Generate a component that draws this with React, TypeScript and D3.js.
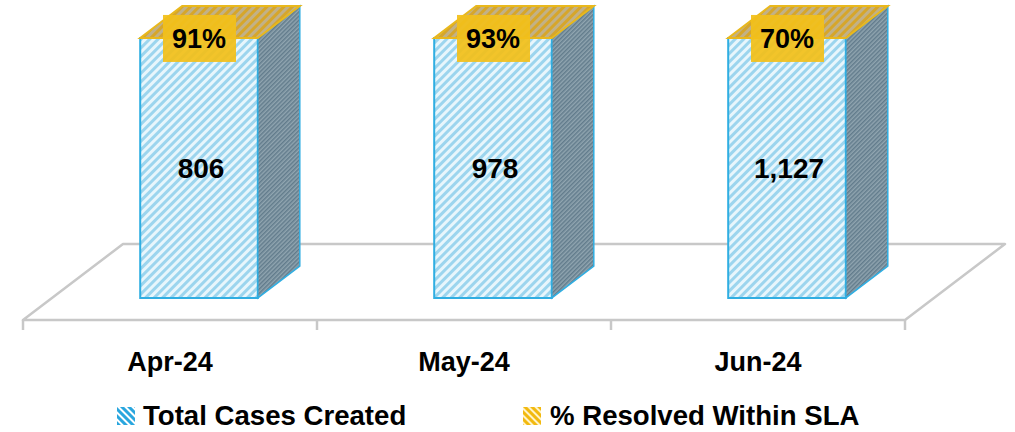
import React from "react";
import * as d3 from "d3";

const categories = ["Apr-24", "May-24", "Jun-24"];
const totalCases = [806, 978, 1127];
const resolvedPct = [0.91, 0.93, 0.7];
const legendLabels = ["Total Cases Created", "% Resolved Within SLA"];
const yDomainMax = 800;

const W = 1015;
const H = 432;
const FONT = "'Liberation Sans', Arial, sans-serif";

export default function App() {
  const floorFrontY = 320;
  const depthDx = 100;
  const depthDy = 76;
  const zStart = 0.29;
  const zEnd = 0.71;

  const x = d3
    .scaleBand<string>()
    .domain(categories)
    .range([23, 905])
    .paddingInner(0.6)
    .paddingOuter(0.3);
  const y = d3.scaleLinear().domain([0, yDomainMax]).range([floorFrontY, 60]).clamp(true);

  const step = x.step();
  const bw = x.bandwidth();
  const floorL = 23;
  const floorR = 905;
  const fmt = d3.format(",");
  const pct = d3.format(".0%");

  const pt = (px: number, py: number, z: number) =>
    `${px + z * depthDx},${py - z * depthDy}`;

  const tickXs = d3.range(categories.length + 1).map((i) => floorL + i * step);

  return (
    <svg
      width={W}
      height={H}
      style={{ position: "absolute", left: 0, top: 0, background: "#fff" }}
      fontFamily={FONT}
    >
      <defs>
        <pattern id="frontPat" width="6" height="6" patternUnits="userSpaceOnUse" patternTransform="rotate(45)">
          <rect width="6" height="6" fill="#e8f6fc" />
          <rect width="3" height="6" fill="#9cd5ee" />
        </pattern>
        <pattern id="sidePat" width="3" height="3" patternUnits="userSpaceOnUse" patternTransform="rotate(45)">
          <rect width="3" height="3" fill="#90a5b0" />
          <rect width="1.5" height="3" fill="#627c8c" />
        </pattern>
        <pattern id="topPat" width="6" height="6" patternUnits="userSpaceOnUse" patternTransform="rotate(45)">
          <rect width="6" height="6" fill="#c2b187" />
          <rect width="3" height="6" fill="#d6a62b" />
        </pattern>
        <pattern id="legBlue" width="5" height="5" patternUnits="userSpaceOnUse" patternTransform="rotate(-45)">
          <rect width="5" height="5" fill="#2aa6de" />
          <rect width="2" height="5" fill="#ffffff" />
        </pattern>
        <pattern id="legGold" width="5" height="5" patternUnits="userSpaceOnUse" patternTransform="rotate(-45)">
          <rect width="5" height="5" fill="#f2b90f" />
          <rect width="2" height="5" fill="#fff3c8" />
        </pattern>
      </defs>

      {/* floor */}
      <polygon
        points={[
          pt(floorL, floorFrontY, 0),
          pt(floorR, floorFrontY, 0),
          pt(floorR, floorFrontY, 1),
          pt(floorL, floorFrontY, 1),
        ].join(" ")}
        fill="none"
        stroke="#c8c8c8"
        strokeWidth={2.5}
        strokeLinejoin="round"
      />
      {tickXs.map((tx, i) => (
        <line key={i} x1={tx} x2={tx} y1={floorFrontY} y2={floorFrontY + 10} stroke="#c8c8c8" strokeWidth={2.5} />
      ))}

      {/* bars */}
      {categories.map((c, i) => {
        const bx0 = x(c)!;
        const bx1 = bx0 + bw;
        const yb = y(0);
        const yt = y(totalCases[i]);
        const front = [pt(bx0, yb, zStart), pt(bx1, yb, zStart), pt(bx1, yt, zStart), pt(bx0, yt, zStart)];
        const side = [pt(bx1, yb, zStart), pt(bx1, yt, zStart), pt(bx1, yt, zEnd), pt(bx1, yb, zEnd)];
        const top = [pt(bx0, yt, zStart), pt(bx1, yt, zStart), pt(bx1, yt, zEnd), pt(bx0, yt, zEnd)];
        const fcx = bx0 + bw / 2 + zStart * depthDx;
        const fty = yt - zStart * depthDy;
        const fby = yb - zStart * depthDy;
        return (
          <g key={c}>
            <polygon points={front.join(" ")} fill="url(#frontPat)" stroke="#30aee2" strokeWidth={2} />
            <polygon points={side.join(" ")} fill="url(#sidePat)" stroke="#30aee2" strokeWidth={1.5} />
            <polygon points={top.join(" ")} fill="url(#topPat)" stroke="#e9b81c" strokeWidth={2} />
            <text x={fcx + 2} y={(fty + fby) / 2 + 10} textAnchor="middle" fontSize={28} fontWeight="bold" fill="#000">
              {fmt(totalCases[i])}
            </text>
            <rect x={fcx - 36} y={fty - 23} width={73} height={47} fill="#f2bf1a" opacity={0.93} />
            <text x={fcx} y={fty + 10} textAnchor="middle" fontSize={27} fontWeight="bold" fill="#000">
              {pct(resolvedPct[i])}
            </text>
          </g>
        );
      })}

      {/* category labels */}
      {categories.map((c) => (
        <text key={c} x={x(c)! + bw / 2} y={371} textAnchor="middle" fontSize={27} fontWeight="bold" fill="#000">
          {c}
        </text>
      ))}

      {/* legend */}
      <g>
        <rect x={117} y={407} width={18} height={18} fill="url(#legBlue)" />
        <text x={143} y={425} fontSize={27.6} fontWeight="bold" fill="#000">{legendLabels[0]}</text>
        <rect x={523} y={407} width={18} height={18} fill="url(#legGold)" />
        <text x={550} y={425} fontSize={27.6} fontWeight="bold" fill="#000">{legendLabels[1]}</text>
      </g>
    </svg>
  );
}
